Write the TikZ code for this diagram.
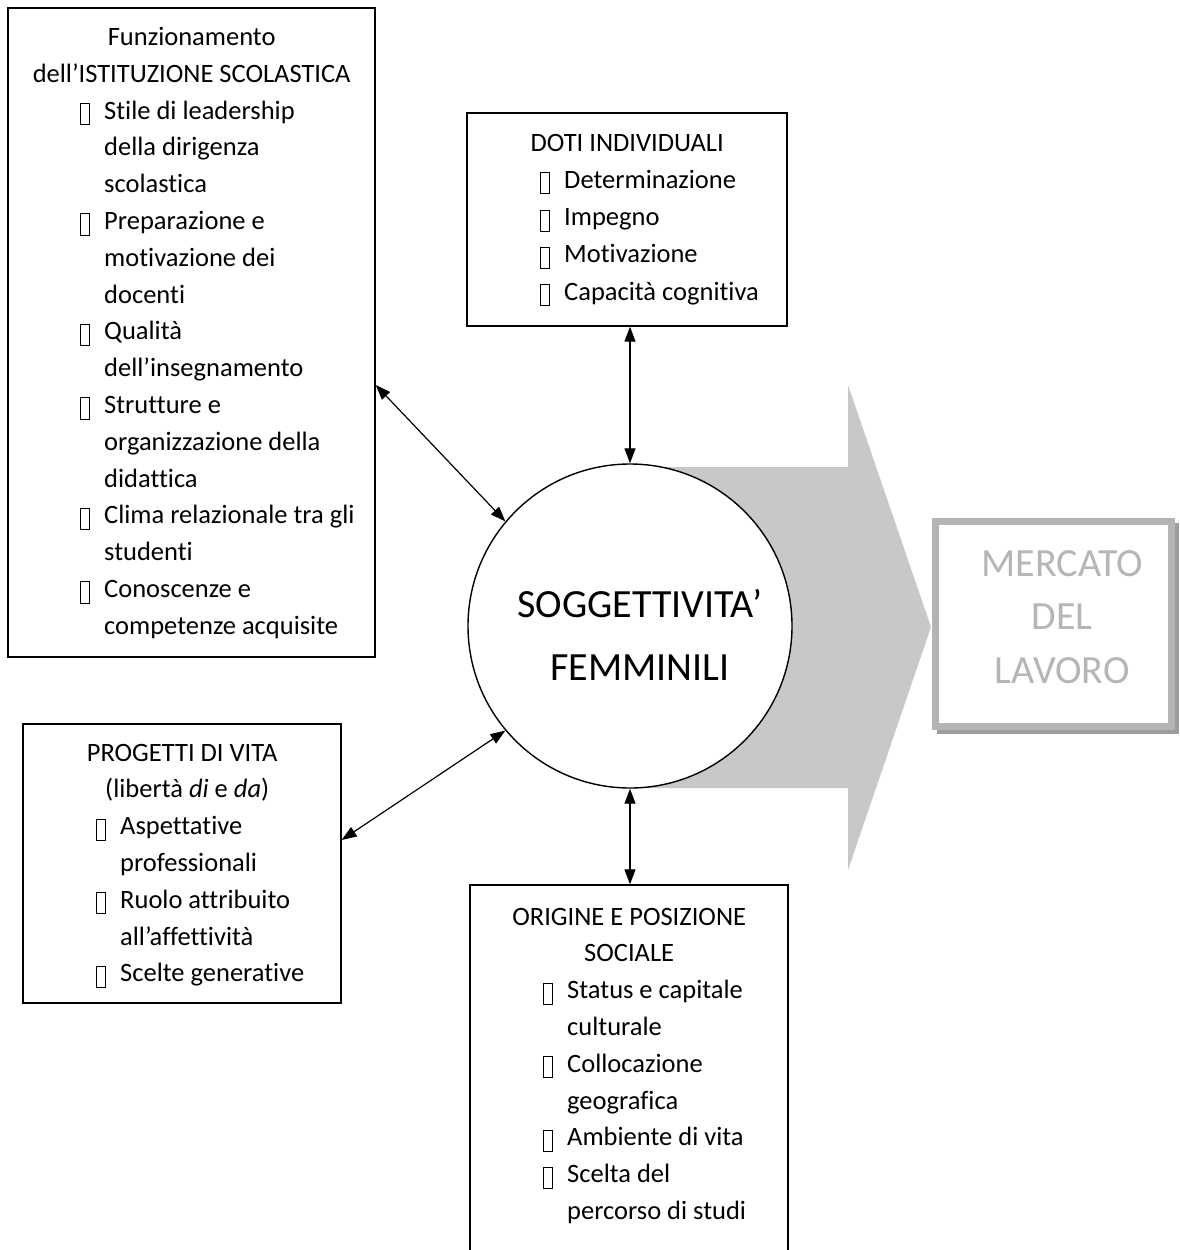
\documentclass[tikz,border=0pt]{standalone}
\usepackage{fontspec}
\setmainfont{Carlito}[Ligatures={TeX,NoCommon}]
\usetikzlibrary{arrows.meta}
\definecolor{arrowgray}{HTML}{C7C8CA}
\definecolor{mgray}{HTML}{B3B4B6}
\definecolor{mshadow}{HTML}{9C9D9F}
\definecolor{mtext}{HTML}{B5B6B8}
\newlength\bxoff
\newcommand\bodyfont{\fontsize{26.5}{36.8}\selectfont}
\newcommand\tofu{\raisebox{-5pt}{\fboxsep=0pt\fboxrule=0.9pt\fbox{\rule{0pt}{20.2pt}\hspace{8.2pt}}}}
\newcommand\ctrline[1]{\hbox to \linewidth{\hss#1\hss}}
\newcommand\itmline[1]{\hbox{\hspace*{\bxoff}\makebox[24pt][l]{\tofu}#1}}
\newcommand\cntline[1]{\hbox{\hspace*{\bxoff}\hspace*{24pt}#1}}
\tikzset{
  boxst/.style={draw, line width=1.4pt, inner sep=0pt, rectangle},
  txt/.style={inner sep=0pt, anchor=base west},
  link/.style={{Triangle[length=15pt,width=11pt]}-{Triangle[length=15pt,width=11pt]}, line width=1.2pt},
}
\begin{document}
\begin{tikzpicture}[x=1pt,y=-1pt]
\useasboundingbox (0,0) rectangle (1180,1250);
\clip (0,0) rectangle (1180,1250);
\fill[white] (0,0) rectangle (1180,1250);

% big grey arrow
\fill[arrowgray] (630,467) -- (848,467) -- (848,385) -- (931,627) -- (848,870) -- (848,788) -- (630,788) -- cycle;

% MERCATO box
\fill[mshadow] (937,523) rectangle (1179,734);
\draw[mgray, line width=7pt, fill=white] (935.5,521.5) rectangle (1171.5,726.5);
\node[txt, text=mtext] (mtxt) at (942,576) {\begin{minipage}[t]{240pt}\fontsize{40}{53.5}\selectfont
\ctrline{MERCATO}\ctrline{DEL}\ctrline{LAVORO}\end{minipage}};

% circle
\node[draw, circle, line width=1.4pt, fill=white, minimum size=324pt, inner sep=0pt] (circ) at (630,626) {};
\node[txt] (stxt) at (517,617) {\begin{minipage}[t]{260pt}\fontsize{40}{63}\selectfont
\hbox{SOGGETTIVITA’}\hbox{\hspace*{33pt}FEMMINILI}\end{minipage}};

% box 1
\node[boxst, minimum width=367pt, minimum height=649pt] (ist) at (191.5,332.5) {};
\node[txt] (isttxt) at (8,45.5) {\begin{minipage}[t]{367pt}\bodyfont\setlength\bxoff{72pt}%
\ctrline{Funzionamento}
\ctrline{dell’ISTITUZIONE SCOLASTICA}
\itmline{Stile di leadership}
\cntline{della dirigenza}
\cntline{scolastica}
\itmline{Preparazione e}
\cntline{motivazione dei}
\cntline{docenti}
\itmline{Qualità}
\cntline{dell’insegnamento}
\itmline{Strutture e}
\cntline{organizzazione della}
\cntline{didattica}
\itmline{Clima relazionale tra gli}
\cntline{studenti}
\itmline{Conoscenze e}
\cntline{competenze acquisite}
\end{minipage}};

% DOTI box
\node[boxst, minimum width=320pt, minimum height=213pt] (doti) at (627,219.5) {};
\node[txt] (dotitxt) at (467,151) {\begin{minipage}[t]{320pt}\fontsize{26.5}{37.3}\selectfont\setlength\bxoff{73pt}%
\ctrline{DOTI INDIVIDUALI}
\itmline{Determinazione}
\itmline{Impegno}
\itmline{Motivazione}
\itmline{Capacità cognitiva}
\end{minipage}};

% PROGETTI box
\node[boxst, minimum width=318pt, minimum height=279pt] (prog) at (182,863.5) {};
\node[txt] (progtxt) at (23,761) {\begin{minipage}[t]{318pt}\bodyfont\setlength\bxoff{73pt}%
\ctrline{PROGETTI DI VITA}
\ctrline{\hspace*{10pt}(libertà \textit{di} e \textit{da})}
\itmline{Aspettative}
\cntline{professionali}
\itmline{Ruolo attribuito}
\cntline{all’affettività}
\itmline{Scelte generative}
\end{minipage}};

% ORIGINE box
\node[boxst, minimum width=318pt, minimum height=380pt] (orig) at (629,1075) {};
\node[txt] (origtxt) at (470,925) {\begin{minipage}[t]{318pt}\bodyfont\setlength\bxoff{73pt}%
\ctrline{ORIGINE E POSIZIONE}
\ctrline{SOCIALE}
\itmline{Status e capitale}
\cntline{culturale}
\itmline{Collocazione}
\cntline{geografica}
\itmline{Ambiente di vita}
\itmline{Scelta del}
\cntline{percorso di studi}
\end{minipage}};

% connectors
\draw[link] (ist.east |- 0,385) -- (circ.140);
\draw[link] (circ.north |- doti.south) -- (circ.north);
\draw[link] (prog.east |- 0,840) -- (circ.220);
\draw[link] (circ.south) -- (circ.south |- orig.north);
\end{tikzpicture}
\end{document}
